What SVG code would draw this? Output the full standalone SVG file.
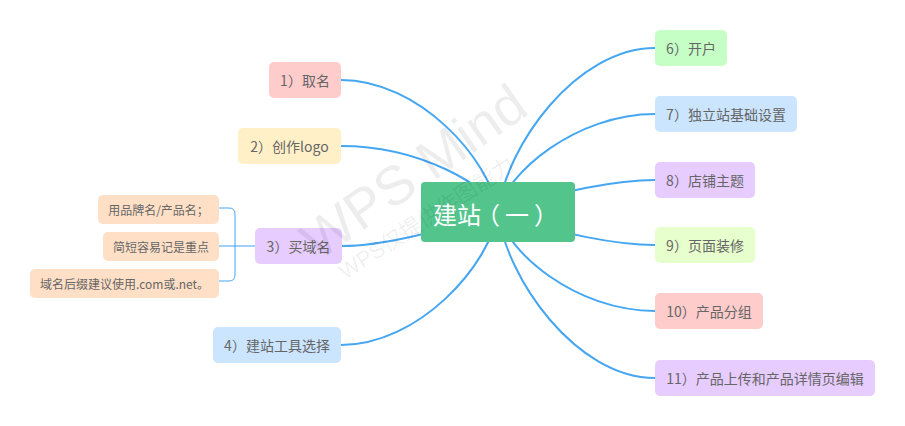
<svg xmlns="http://www.w3.org/2000/svg" width="905" height="426" viewBox="0 0 905 426">
<style>
.t{font-family:"Noto Sans CJK SC","Liberation Sans",sans-serif;font-size:14px;fill:#666;text-anchor:middle;dominant-baseline:central}
.s{font-size:12px}
.c{stroke:#45A6F2;stroke-width:2;fill:none}
.wm{font-family:"Liberation Sans","Noto Sans CJK SC",sans-serif;fill:#000;fill-opacity:0.07}
</style>
<rect width="905" height="426" fill="#fff"/>
<g id="connectors">
<path class="c" d="M341,80 C419,80 490,159 498,212"/>
<path class="c" d="M341,146 C419,146 490,186 498,212"/>
<path class="c" d="M342,246 C380,246 440,232 498,212"/>
<path class="c" d="M341,345 C419,345 490,265 498,212"/>
<path class="c" d="M655,48 C576,48 506,146 498,212"/>
<path class="c" d="M655,114 C576,114 506,173 498,212"/>
<path class="c" d="M655,180 C620,180 560,190 498,212"/>
<path class="c" d="M655,245 C620,245 560,235 498,212"/>
<path class="c" d="M655,311 C576,311 506,252 498,212"/>
<path class="c" d="M655,378 C576,378 506,278 498,212"/>
<path d="M219,246 H255" stroke="#9fd0f7" stroke-width="2" fill="none"/>
<path d="M219,208 H229 Q235,208 235,214 V275 Q235,281 229,281 H219" stroke="#45A6F2" stroke-width="1" fill="none"/>
</g>
<g id="center"><rect x="421" y="182" width="154" height="60" rx="4" fill="#52C48C"/><text x="445 469 488 517 546" y="213" class="t" style="font-size:24px;fill:#fff">建站（一）</text></g>
<g id="n1"><rect x="269" y="62" width="72" height="36" rx="5" fill="#FFCCCC"/><text x="305" y="80" class="t">1）取名</text></g>
<g id="n2"><rect x="238" y="128" width="103" height="36" rx="5" fill="#FFF0C8"/><text x="289.5" y="146" class="t">2）创作logo</text></g>
<g id="n3"><rect x="255" y="228" width="87" height="36" rx="5" fill="#E6CCFF"/><text x="298.5" y="246" class="t">3）买域名</text></g>
<g id="n4"><rect x="213" y="327" width="128" height="36" rx="5" fill="#CCE5FF"/><text x="277" y="345" class="t">4）建站工具选择</text></g>
<g id="n3a"><rect x="98" y="195" width="121" height="29" rx="5" fill="#FFE0C6"/><text x="158.5" y="209.5" class="t s">用品牌名/产品名；</text></g>
<g id="n3b"><rect x="103" y="232" width="116" height="29" rx="5" fill="#FFE0C6"/><text x="161" y="246.5" class="t s">简短容易记是重点</text></g>
<g id="n3c"><rect x="30" y="269" width="189" height="29" rx="5" fill="#FFE0C6"/><text x="124.5" y="283.5" class="t s">域名后缀建议使用.com或.net。</text></g>
<g id="n6"><rect x="655" y="30" width="72" height="36" rx="5" fill="#C6FFC6"/><text x="691" y="48" class="t">6）开户</text></g>
<g id="n7"><rect x="655" y="96" width="142" height="36" rx="5" fill="#CCE5FF"/><text x="726" y="114" class="t">7）独立站基础设置</text></g>
<g id="n8"><rect x="655" y="162" width="100" height="36" rx="5" fill="#E6CCFF"/><text x="705" y="180" class="t">8）店铺主题</text></g>
<g id="n9"><rect x="655" y="227" width="100" height="36" rx="5" fill="#E6FFCC"/><text x="705" y="245" class="t">9）页面装修</text></g>
<g id="n10"><rect x="655" y="293" width="108" height="36" rx="5" fill="#FFCCCC"/><text x="709" y="311" class="t">10）产品分组</text></g>
<g id="n11"><rect x="655" y="360" width="220" height="36" rx="5" fill="#E6CCFF"/><text x="765" y="378" class="t">11）产品上传和产品详情页编辑</text></g>
<g id="watermark">
<text class="wm" x="0" y="0" font-size="55" transform="translate(318,262) rotate(-35)">WPS Mind</text>
<text class="wm" x="0" y="0" font-size="22" transform="translate(345,280) rotate(-33)">WPS仅提供作图能力</text>
</g>
</svg>
